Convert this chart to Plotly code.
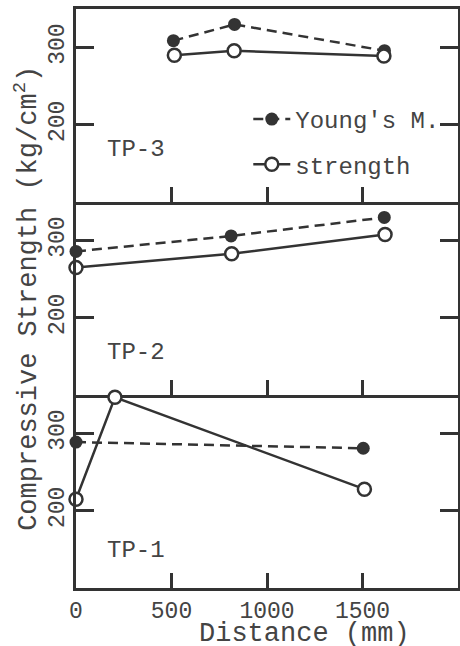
import plotly.graph_objects as go
from plotly.subplots import make_subplots

# ---- data ----
panels = ["TP-3", "TP-2", "TP-1"]

tp3_x_young = [510, 830, 1615]
tp3_young = [309, 330, 296]
tp3_x_str = [515, 828, 1612]
tp3_str = [290, 296, 289]

tp2_x_young = [0, 812, 1614]
tp2_young = [286, 306, 330]
tp2_x_str = [0, 815, 1618]
tp2_str = [265, 283, 308]

tp1_x_young = [0, 1504]
tp1_young = [289, 281]
tp1_x_str = [0, 204, 1510]
tp1_str = [215, 347, 228]

x_tickvals = [0, 500, 1000, 1500]
y_tickvals = [200, 300]
label_y = [168, 155, 148]

FONT = "Liberation Mono"
LINE = "#333333"
TEXT = "#444444"

fig = make_subplots(rows=3, cols=1, shared_xaxes=True, vertical_spacing=0)

data = [
    (tp3_x_young, tp3_young, tp3_x_str, tp3_str),
    (tp2_x_young, tp2_young, tp2_x_str, tp2_str),
    (tp1_x_young, tp1_young, tp1_x_str, tp1_str),
]

for i, (xy, yy, xs, ys) in enumerate(data):
    row = i + 1
    fig.add_trace(go.Scatter(
        x=xy, y=yy, mode="lines+markers", name="Young's M.",
        legendgroup="a", showlegend=(i == 0),
        line=dict(color=LINE, width=2.5, dash="10px,6px"),
        marker=dict(symbol="circle", size=13, color=LINE),
        cliponaxis=False,
    ), row=row, col=1)
    fig.add_trace(go.Scatter(
        x=xs, y=ys, mode="lines+markers", name="strength",
        legendgroup="b", showlegend=(i == 0),
        line=dict(color=LINE, width=2.5),
        marker=dict(symbol="circle", size=13, color="white",
                    line=dict(color=LINE, width=2.5)),
        cliponaxis=False,
    ), row=row, col=1)
    fig.add_annotation(x=150, y=label_y[i], text=panels[i], showarrow=False,
                       xanchor="left", yanchor="middle",
                       font=dict(family=FONT, size=24, color=TEXT),
                       xref=f"x{'' if row == 1 else row}",
                       yref=f"y{'' if row == 1 else row}")

for row in range(1, 4):
    fig.update_xaxes(range=[0, 2000], tickvals=x_tickvals, automargin=False,
                     ticks="inside", ticklen=15, tickwidth=2.5, tickcolor=LINE,
                     showline=True, linecolor=LINE, linewidth=2.5,
                     mirror=(row == 1),
                     showgrid=False, zeroline=False,
                     showticklabels=(row == 3),
                     tickfont=dict(family=FONT, size=23, color=TEXT),
                     row=row, col=1)
    fig.update_yaxes(range=[100, 350], tickvals=y_tickvals, automargin=False,
                     ticks="inside", ticklen=18, tickwidth=2.5, tickcolor=LINE,
                     showline=True, linecolor=LINE, linewidth=2.5, mirror="allticks",
                     showgrid=False, zeroline=False, tickangle=-90,
                     tickfont=dict(family=FONT, size=23, color=TEXT),
                     row=row, col=1)

fig.add_annotation(text="Distance (mm)", x=0.599, y=-0.0795, xref="paper", yref="paper",
                   showarrow=False, xanchor="center", yanchor="middle",
                   font=dict(family=FONT, size=27, color=TEXT))
fig.add_annotation(text="Compressive Strength (kg/cm<sup>2</sup>)", x=-0.13, y=0.5,
                   xref="paper", yref="paper", textangle=-90,
                   showarrow=False, xanchor="center", yanchor="middle",
                   font=dict(family=FONT, size=27, color=TEXT))

fig.update_layout(
    width=460, height=646,
    margin=dict(l=76, r=2, t=9, b=58, autoexpand=False),
    paper_bgcolor="white", plot_bgcolor="white",
    showlegend=True,
    legend=dict(x=0.451, y=0.848, xanchor="left", yanchor="top", itemwidth=37,
                bgcolor="rgba(0,0,0,0)", traceorder="grouped", tracegroupgap=11,
                font=dict(family=FONT, size=24, color=TEXT)),
)

fig.write_html("out.html", config={"displayModeBar": False},
               post_script="document.body.style.margin='0';document.body.style.padding='0';")
